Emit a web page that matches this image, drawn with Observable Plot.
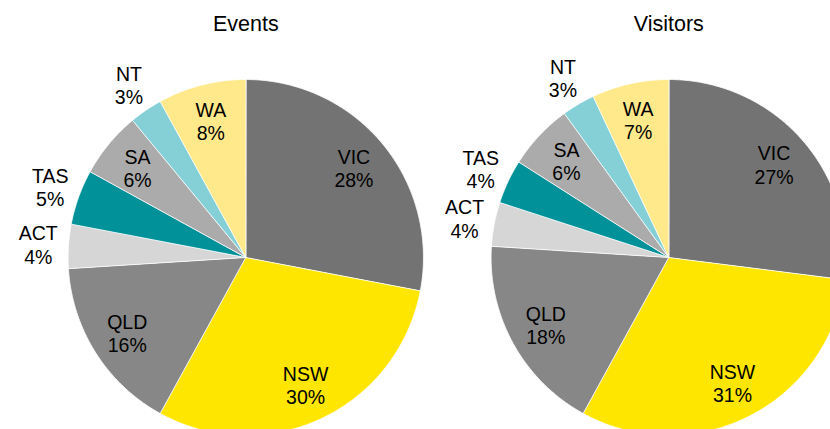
<!DOCTYPE html>
<html><head><meta charset="utf-8">
<script src="https://cdn.jsdelivr.net/npm/d3@7"></script>
<script src="https://cdn.jsdelivr.net/npm/@observablehq/plot@0.6"></script>
<style>
html,body{margin:0;padding:0;background:#fff;overflow:hidden;}
</style></head><body><div id="chart"></div>
<script>
const states = ["VIC","NSW","QLD","ACT","TAS","SA","NT","WA"];
const eventsPct = [28,30,16,4,5,6,3,8];
const visitorsPct = [27,31,18,4,4,6,3,7];
const panels = ["Events","Visitors"];
const colors = ["#737373","#FFE600","#878787","#D6D6D6","#009199","#ABABAB","#84D0D6","#FFE98A"];

// layout constants (pixels)
const W = 830, H = 429, R = 178, CX = 245.7, CY = 257, STEP = 423.3;
const PI = 2 - W / STEP;
const BAND = STEP * (1 - PI);
const xDomain = [-CX / R, (BAND - CX) / R];
const yDomain = [-(H - CY) / R, CY / R];

const series = {Events: eventsPct, Visitors: visitorsPct};
const slices = [], labels = [];
for (const p of panels) {
  const vals = series[p];
  const arcs = d3.pie().sort(null).value(d => d)(vals);
  arcs.forEach((a, i) => {
    const key = p + "-" + states[i];
    const n = Math.max(2, Math.ceil((a.endAngle - a.startAngle) / 0.01));
    slices.push({panel: p, state: states[i], key, x: 0, y: 0});
    for (let k = 0; k <= n; k++) {
      const t = a.startAngle + (a.endAngle - a.startAngle) * k / n;
      slices.push({panel: p, state: states[i], key, x: Math.sin(t), y: Math.cos(t)});
    }
    const mid = (a.startAngle + a.endAngle) / 2;
    const inside = vals[i] >= 6;
    const r = inside ? 0.79 : 1.17;
    labels.push({panel: p, x: r * Math.sin(mid), y: r * Math.cos(mid), text: states[i] + "\n" + vals[i] + "%"});
  });
}

const chart = Plot.plot({
  width: W, height: H, margin: 0,
  style: {fontFamily: "'Liberation Sans', Arial, sans-serif", overflow: "hidden", background: "#fff"},
  fx: {domain: panels, paddingInner: PI, paddingOuter: 0, axis: null},
  x: {domain: xDomain, axis: null},
  y: {domain: yDomain, axis: null},
  color: {domain: states, range: colors},
  marks: [
    Plot.line(slices, {x: "x", y: "y", z: "key", fx: "panel", fill: "state", stroke: "white", strokeWidth: 0.8, curve: "linear-closed"}),
    Plot.text(labels, {x: "x", y: "y", fx: "panel", text: "text", fontSize: 19.5, lineHeight: 1.2, lineAnchor: "middle", fill: "#000"}),
    Plot.text(panels, {fx: d => d, x: () => 0, frameAnchor: "top", lineAnchor: "middle", dy: 24, text: d => d, fontSize: 21.5, fill: "#000"})
  ]
});
document.getElementById("chart").appendChild(chart);
</script>
</body></html>
